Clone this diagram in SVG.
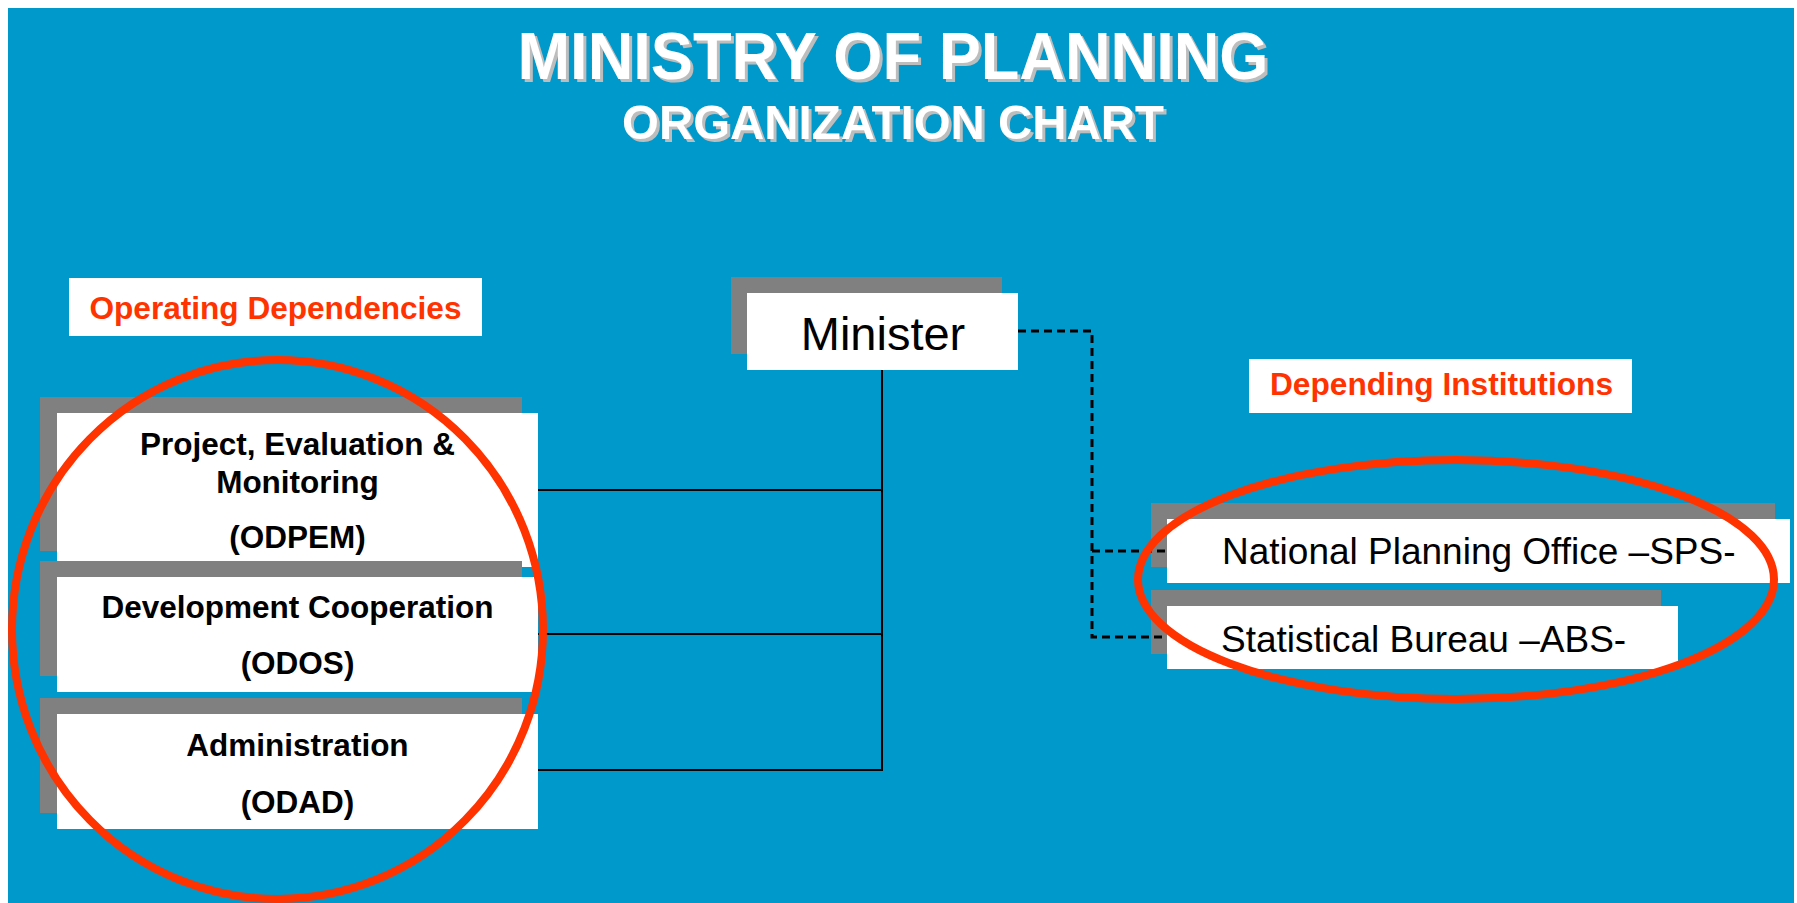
<svg xmlns="http://www.w3.org/2000/svg" width="1797" height="903" viewBox="0 0 1797 903">
  <defs>
    <style>
      .shadow { fill: #808080; }
      .box { fill: #FFFFFF; }
      .title { font-family: "Liberation Sans", Arial, sans-serif; font-weight: bold; text-anchor: middle; }
      .t-shadow { fill: #BDBDBD; }
      .t-main { fill: #FFFFFF; }
      .label { font-family: "Liberation Sans", Arial, sans-serif; font-weight: bold; fill: #FF3300; }
      .unit { font-family: "Liberation Sans", Arial, sans-serif; font-weight: bold; font-size: 31.5px; fill: #000000; text-anchor: middle; }
      .reg { font-family: "Liberation Sans", Arial, sans-serif; font-weight: normal; fill: #000000; }
      .solid { stroke: #000000; stroke-width: 2; fill: none; }
      .dashed { stroke: #000000; stroke-width: 3; stroke-dasharray: 8 5; fill: none; }
      .ring { stroke: #FF3300; stroke-width: 8; fill: none; }
    </style>
  </defs>

  <rect x="0" y="0" width="1797" height="903" fill="#FFFFFF"/>
  <rect x="8" y="8" width="1786" height="895" fill="#0099CC"/>

  <g id="title">
    <text class="title t-shadow" x="896" y="82" font-size="66" textLength="751" lengthAdjust="spacingAndGlyphs">MINISTRY OF PLANNING</text>
    <text class="title t-main" x="893" y="79" font-size="66" textLength="751" lengthAdjust="spacingAndGlyphs">MINISTRY OF PLANNING</text>
    <text class="title t-shadow" x="896" y="142" font-size="49" textLength="542" lengthAdjust="spacingAndGlyphs">ORGANIZATION CHART</text>
    <text class="title t-main" x="893" y="139" font-size="49" textLength="542" lengthAdjust="spacingAndGlyphs">ORGANIZATION CHART</text>
  </g>

  <g id="label-operating">
    <rect class="box" x="69" y="278" width="413" height="58"/>
    <text class="label" x="275.5" y="319" font-size="31" text-anchor="middle" textLength="372" lengthAdjust="spacingAndGlyphs">Operating Dependencies</text>
  </g>

  <g id="label-depending">
    <rect class="box" x="1249" y="359" width="383" height="54"/>
    <text class="label" x="1441.5" y="395" font-size="31.5" text-anchor="middle" textLength="343" lengthAdjust="spacingAndGlyphs">Depending Institutions</text>
  </g>

  <g id="node-minister">
    <rect class="shadow" x="731" y="277" width="271" height="77"/>
    <rect class="box" x="747" y="293" width="271" height="77"/>
    <text class="reg" x="883" y="350" font-size="47" text-anchor="middle">Minister</text>
  </g>

  <g id="node-odpem">
    <rect class="shadow" x="40" y="397" width="482" height="154"/>
    <rect class="box" x="57" y="413" width="481" height="154"/>
    <text class="unit" x="297.5" y="455">Project, Evaluation &amp;</text>
    <text class="unit" x="297.5" y="493">Monitoring</text>
    <text class="unit" x="297.5" y="548">(ODPEM)</text>
  </g>

  <g id="node-odos">
    <rect class="shadow" x="40" y="561" width="482" height="115"/>
    <rect class="box" x="57" y="577" width="481" height="115"/>
    <text class="unit" x="297.5" y="618">Development Cooperation</text>
    <text class="unit" x="297.5" y="674">(ODOS)</text>
  </g>

  <g id="node-odad">
    <rect class="shadow" x="40" y="698" width="482" height="115"/>
    <rect class="box" x="57" y="714" width="481" height="115"/>
    <text class="unit" x="297.5" y="756">Administration</text>
    <text class="unit" x="297.5" y="813">(ODAD)</text>
  </g>

  <g id="node-sps">
    <rect class="shadow" x="1151" y="503" width="624" height="64"/>
    <rect class="box" x="1167" y="519" width="623" height="64"/>
    <text class="reg" x="1222" y="564" font-size="37">National Planning Office –SPS-</text>
  </g>

  <g id="node-abs">
    <rect class="shadow" x="1151" y="590" width="510" height="64"/>
    <rect class="box" x="1167" y="606" width="511" height="63"/>
    <text class="reg" x="1221" y="652" font-size="37">Statistical Bureau –ABS-</text>
  </g>

  <g id="connectors">
    <line class="solid" x1="882" y1="370" x2="882" y2="771"/>
    <line class="solid" x1="538" y1="490" x2="883" y2="490"/>
    <line class="solid" x1="538" y1="634" x2="883" y2="634"/>
    <line class="solid" x1="538" y1="770" x2="883" y2="770"/>
    <polyline class="dashed" points="1018,331 1092,331 1092,637 1167,637"/>
    <line class="dashed" x1="1092" y1="551" x2="1167" y2="551"/>
  </g>

  <g id="highlights">
    <ellipse class="ring" cx="277.5" cy="629.5" rx="265.5" ry="269.5"/>
    <ellipse class="ring" cx="1456" cy="579.5" rx="318" ry="119.5"/>
  </g>
</svg>
